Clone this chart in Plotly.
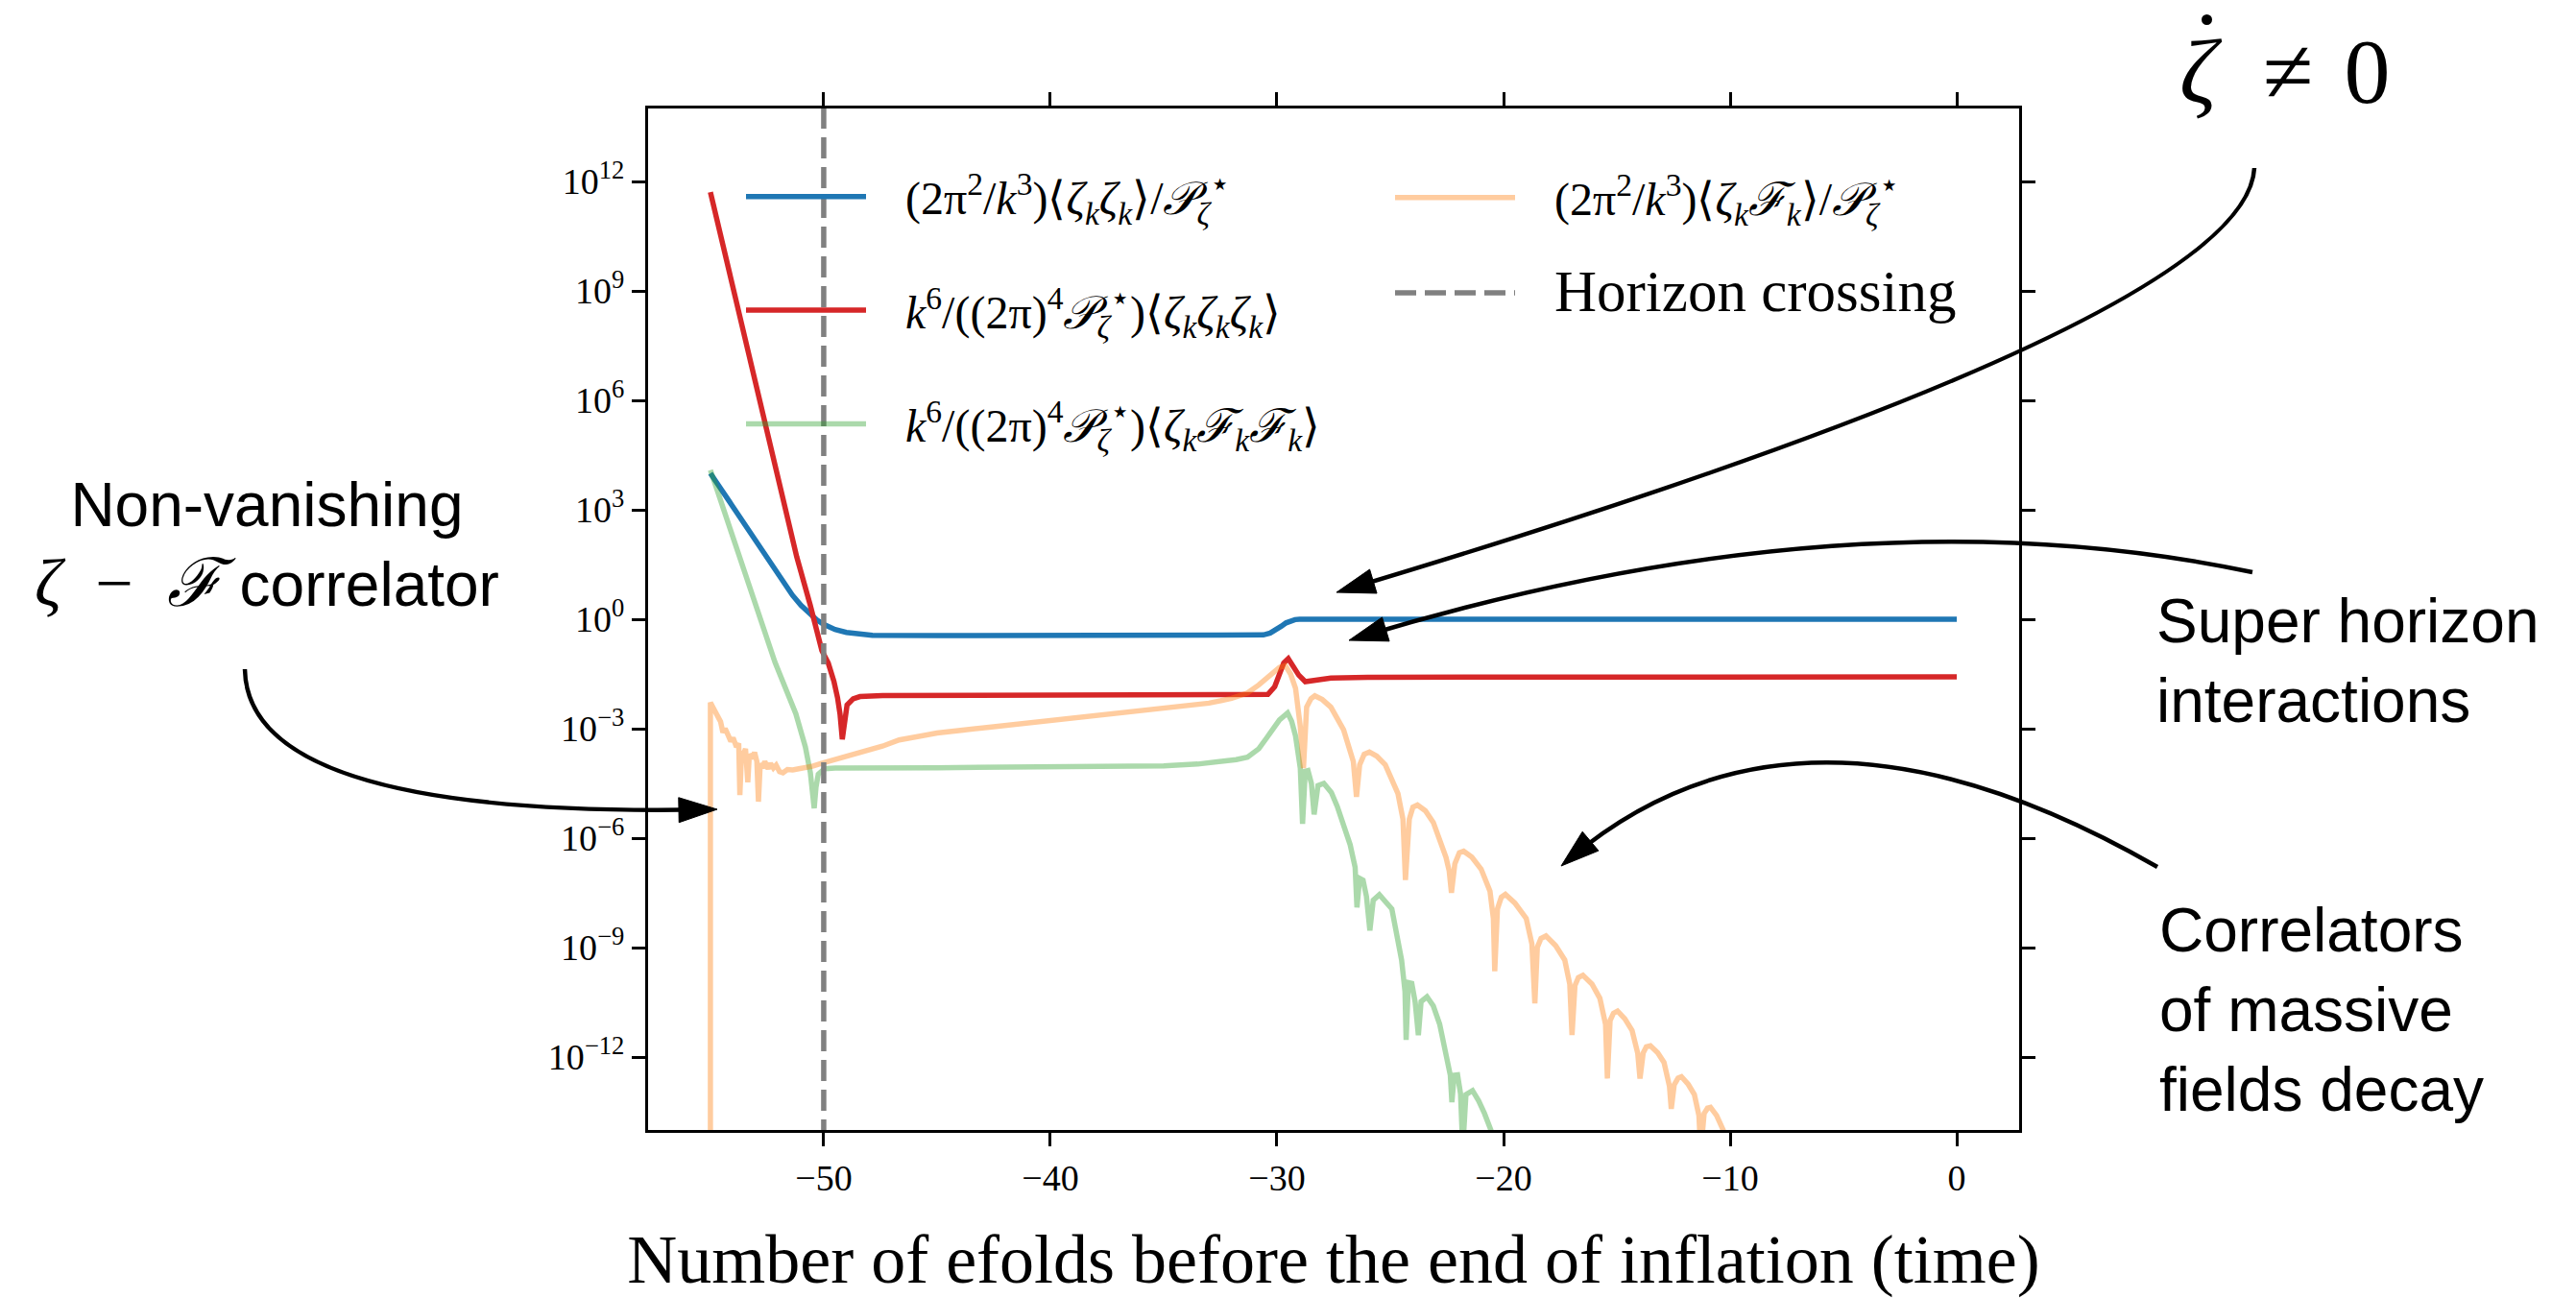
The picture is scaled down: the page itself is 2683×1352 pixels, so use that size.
import numpy as np
import plotly.graph_objects as go

# ---------------- data (x in efolds, y given as log10 of the value) ----------------
blue_x = [-55.0, -54.0, -53.0, -52.55, -52.0, -51.38, -51.0, -50.6, -50.3, -50.0, -49.5, -49.0,
          -48.5, -47.85, -45.0, -40.0, -35.0, -31.0, -30.6, -30.3, -30.0, -29.8, -29.6, -29.4,
          -29.2, -29.0, -25.0, -20.0, -10.0, 0.0]
blue_log = [4.00, 3.07, 2.13, 1.71, 1.22, 0.66, 0.38, 0.14, -0.02, -0.14, -0.28, -0.36,
            -0.41, -0.44, -0.45, -0.45, -0.45, -0.44, -0.43, -0.38, -0.28, -0.19, -0.10, -0.04,
            -0.01, 0.0, 0.0, 0.0, 0.0, 0.0]

red_x = [-55.0, -54.0, -53.0, -52.0, -51.19, -50.6, -50.08, -49.8, -49.55, -49.39, -49.28, -49.18,
         -49.08, -48.97, -48.7, -48.4, -47.4, -40.0, -31.3, -30.4, -30.1, -29.89, -29.7, -29.5,
         -29.3, -29.04, -28.75, -28.4, -27.62, -26.0, -20.0, 0.0]
red_log = [11.71, 9.1, 6.5, 3.9, 1.71, 0.4, -0.86, -1.2, -1.7, -2.15, -2.6, -3.29,
           -2.7, -2.35, -2.18, -2.12, -2.09, -2.08, -2.08, -2.06, -1.85, -1.45, -1.2, -1.08,
           -1.25, -1.53, -1.71, -1.67, -1.61, -1.59, -1.58, -1.58]

green_x = [-55.0, -54.0, -53.0, -52.15, -51.23, -50.81, -50.59, -50.5, -50.42, -50.34, -50.24, -49.96,
           -49.5, -45.0, -40.0, -35.0, -33.5, -32.6, -31.8, -31.3, -30.8, -30.45, -30.1, -29.89,
           -29.53, -29.35, -29.18, -28.97, -28.87, -28.75, -28.63, -28.48, -28.36, -28.19, -27.93,
           -27.6, -27.34, -26.77, -26.55, -26.47, -26.35, -26.2, -26.05, -25.9, -25.75, -25.48,
           -25.2, -24.93, -24.5, -24.35, -24.3, -24.2, -24.05, -23.9, -23.76, -23.64, -23.38,
           -23.1, -22.82, -22.47, -22.35, -22.28, -22.18, -22.03, -21.9, -21.8, -21.66, -21.37,
           -21.1, -20.84, -20.56, -20.3]
green_log = [4.09, 2.24, 0.39, -1.18, -2.59, -3.5, -4.2, -4.6, -5.18, -4.6, -4.25, -4.1,
             -4.08, -4.07, -4.06, -4.02, -3.97, -3.91, -3.85, -3.78, -3.55, -3.25, -2.95, -2.76,
             -2.57, -2.8, -3.2, -4.08, -5.61, -4.17, -4.15, -4.5, -5.35, -4.56, -4.5,
             -4.75, -5.13, -6.18, -6.8, -7.9, -7.1, -7.15, -7.6, -8.53, -7.7, -7.55,
             -7.75, -7.94, -9.34, -10.2, -11.53, -9.96, -9.98, -10.5, -11.4, -10.48, -10.35,
             -10.6, -11.1, -12.06, -12.5, -13.24, -12.5, -12.49, -13.0, -14.5, -13.03, -12.92,
             -13.2, -13.55, -14.0, -14.6]

orange_x = [-55.0, -55.0, -54.9, -54.83, -54.75, -54.65, -54.55, -54.45, -54.35, -54.2, -54.1, -54.0,
            -53.85, -53.75, -53.7, -53.62, -53.56, -53.45, -53.35, -53.28, -53.14, -53.05, -52.95,
            -52.88, -52.8, -52.71, -52.6, -52.45, -52.35, -52.22, -52.1, -51.95, -51.8, -51.6,
            -51.37, -51.1, -50.81, -50.5, -50.1, -49.5, -48.83, -48.1, -47.41, -46.67, -45.0,
            -42.7, -40.0, -38.8, -36.5, -34.9, -33.0, -32.0, -31.3, -30.8, -30.45, -30.1, -29.89,
            -29.63, -29.4, -29.18, -28.97, -28.83, -28.69, -28.5, -28.33, -28.0, -27.62, -27.06,
            -26.63, -26.49, -26.35, -26.15, -25.92, -25.6, -25.22, -24.66, -24.44, -24.33, -24.16,
            -24.0, -23.8, -23.45, -23.1, -22.54, -22.4, -22.3, -22.15, -21.95, -21.76, -21.4,
            -20.99, -20.6, -20.45, -20.39, -20.27, -20.1, -19.92, -19.5, -19.0, -18.75, -18.62,
            -18.51, -18.35, -18.13, -17.7, -17.3, -17.08, -16.98, -16.85, -16.7, -16.5, -16.1,
            -15.75, -15.5, -15.42, -15.3, -15.15, -14.97, -14.65, -14.33, -14.08, -13.98, -13.84,
            -13.7, -13.52, -13.2, -12.92, -12.68, -12.6, -12.47, -12.3, -12.15, -11.85, -11.58,
            -11.38, -11.3, -11.15, -11.0, -10.87, -10.6, -10.31, -10.1]
orange_log = [-20.0, -2.28, -2.4, -2.5, -2.55, -2.75, -2.81, -3.1, -3.0, -3.2, -3.35, -3.25,
              -3.5, -3.4, -4.82, -3.6, -3.73, -3.55, -4.47, -3.7, -3.82, -3.65, -3.9,
              -5.0, -3.95, -4.08, -3.9, -4.1, -3.95, -4.08, -4.0, -4.18, -4.21, -4.12,
              -4.13, -4.1, -4.08, -4.03, -3.95, -3.85, -3.73, -3.6, -3.48, -3.31, -3.12,
              -2.96, -2.78, -2.68, -2.55, -2.44, -2.3, -2.17, -2.02, -1.8, -1.62, -1.45, -1.32,
              -1.27, -1.5, -1.89, -2.94, -4.08, -2.41, -2.18, -2.1, -2.2, -2.41, -3.03,
              -3.9, -4.87, -3.99, -3.7, -3.64, -3.75, -3.99, -4.78, -5.48, -7.15, -5.48,
              -5.15, -5.09, -5.25, -5.57, -6.53, -6.9, -7.5, -6.7, -6.4, -6.36, -6.52,
              -6.85, -7.45, -8.2, -9.65, -7.94, -7.62, -7.54, -7.78, -8.2, -8.9, -10.53,
              -8.99, -8.75, -8.68, -8.95, -9.34, -10.0, -11.4, -10.04, -9.82, -9.76, -10.0,
              -10.39, -11.1, -12.59, -11.0, -10.8, -10.74, -10.95, -11.27, -11.9, -12.59, -11.89,
              -11.72, -11.69, -11.88, -12.15, -12.8, -13.42, -12.76, -12.58, -12.54, -12.75, -13.03,
              -13.6, -14.6, -13.55, -13.4, -13.38, -13.6, -14.0, -14.4]

horizon_x = [-50.0, -50.0]
horizon_y = [1e-20, 1e20]

x_ticks = [-50, -40, -30, -20, -10, 0]
y_tick_vals = [1e-12, 1e-9, 1e-6, 1e-3, 1e0, 1e3, 1e6, 1e9, 1e12]
y_tick_text = ["10<sup>−12</sup>", "10<sup>−9</sup>", "10<sup>−6</sup>", "10<sup>−3</sup>",
               "10<sup>0</sup>", "10<sup>3</sup>", "10<sup>6</sup>", "10<sup>9</sup>", "10<sup>12</sup>"]

# ---------------- layout helpers ----------------
W, H = 2683, 1352
L, R, T, B = 675, 2103, 113, 1177  # plot-area box in pixels


def pp(X, Y):
    """pixel position -> paper coordinates"""
    return (X - L) / (R - L), (B - Y) / (B - T)


SERIF = "Liberation Serif"
SANS = "Liberation Sans"
NB = "\u00a0\u00a0\u00a0"  # gap between legend line and its label

Z = "<i>ζ</i>"
K = "<i>k</i>"
F = "<i>ℱ</i>"
P = "<i>𝒫</i>"
PZ = f"{P}<sub>{Z}</sub><sup>⋆</sup>"

name_blue = NB + f"(2π<sup>2</sup>/{K}<sup>3</sup>)⟨{Z}<sub>{K}</sub>{Z}<sub>{K}</sub>⟩/{PZ}"
name_red = NB + f"{K}<sup>6</sup>/((2π)<sup>4</sup>{PZ})⟨{Z}<sub>{K}</sub>{Z}<sub>{K}</sub>{Z}<sub>{K}</sub>⟩"
name_green = NB + f"{K}<sup>6</sup>/((2π)<sup>4</sup>{PZ})⟨{Z}<sub>{K}</sub>{F}<sub>{K}</sub>{F}<sub>{K}</sub>⟩"
name_orange = NB + f"(2π<sup>2</sup>/{K}<sup>3</sup>)⟨{Z}<sub>{K}</sub>{F}<sub>{K}</sub>⟩/{PZ}"
name_horizon = NB + "<span style='font-size:61px'>Horizon crossing</span>"

fig = go.Figure()
LW = 5.5
fig.add_trace(go.Scatter(x=blue_x, y=10 ** np.array(blue_log), mode="lines", name=name_blue,
                         line=dict(color="#1f77b4", width=LW), legend="legend", legendgroup="a",
                         legendrank=1))
fig.add_trace(go.Scatter(x=red_x, y=10 ** np.array(red_log), mode="lines", name=name_red,
                         line=dict(color="#d62728", width=LW), legend="legend", legendgroup="b",
                         legendrank=2))
fig.add_trace(go.Scatter(x=green_x, y=10 ** np.array(green_log), mode="lines", name=name_green,
                         line=dict(color="rgba(44,160,44,0.4)", width=LW), legend="legend",
                         legendgroup="c", legendrank=3))
fig.add_trace(go.Scatter(x=orange_x, y=10 ** np.array(orange_log), mode="lines", name=name_orange,
                         line=dict(color="rgba(255,127,14,0.4)", width=LW), legend="legend2",
                         legendgroup="d", legendrank=4))
fig.add_trace(go.Scatter(x=horizon_x, y=horizon_y, mode="lines", name=name_horizon,
                         line=dict(color="#808080", width=5.5, dash="22px,9px"), legend="legend2",
                         legendgroup="e", legendrank=5))

axis_common = dict(showline=True, linecolor="black", linewidth=3, mirror="ticks", ticks="outside",
                   ticklen=14, tickwidth=3, tickcolor="black", showgrid=False, zeroline=False,
                   tickfont=dict(family=SERIF, size=38, color="black"))

lx1, ly1 = pp(772, 167)
lx2, ly2 = pp(1448, 168)

fig.update_layout(
    width=W, height=H,
    margin=dict(l=L, r=W - R, t=T, b=H - B, pad=0),
    paper_bgcolor="white", plot_bgcolor="white",
    xaxis=dict(range=[-57.75, 2.75], tickvals=x_ticks, automargin=False,
               title=dict(text="Number of efolds before the end of inflation (time)",
                          font=dict(family=SERIF, size=72, color="black"), standoff=40),
               **axis_common),
    yaxis=dict(type="log", range=[-14, 14], tickvals=y_tick_vals, ticktext=y_tick_text,
               automargin=False, **axis_common),
    legend=dict(x=lx1, y=ly1, xanchor="left", yanchor="top", bgcolor="rgba(0,0,0,0)",
                font=dict(family=SERIF, size=48, color="black"), traceorder="grouped",
                tracegroupgap=53, itemwidth=125),
    legend2=dict(x=lx2, y=ly2, xanchor="left", yanchor="top", bgcolor="rgba(0,0,0,0)",
                 font=dict(family=SERIF, size=48, color="black"), traceorder="grouped",
                 tracegroupgap=34, itemwidth=125),
    showlegend=True,
)

# ---------------- curved arrows (quadratic Bezier in pixel space) ----------------
curves = [
    ((2348, 175), (2340, 333), (1392, 617)),   # zeta-dot != 0
    ((2346, 596), (1930, 508), (1405, 667)),   # super horizon interactions
    ((2247, 903), (1877, 690), (1626, 902)),   # massive fields decay
    ((255, 697), (258, 852), (747, 843)),      # non-vanishing correlator
]
HEAD_LEN, HEAD_HW = 40.0, 13.0
for P0, P1, P2 in curves:
    d = np.array(P2, float) - np.array(P1, float)
    d /= np.linalg.norm(d)
    n = np.array([-d[1], d[0]])
    tip = np.array(P2, float)
    base = tip - d * HEAD_LEN
    end = tip - d * 12
    a = pp(*P0); b = pp(*P1); c = pp(*end)
    fig.add_shape(type="path", xref="paper", yref="paper", layer="above",
                  path=f"M{a[0]},{a[1]} Q{b[0]},{b[1]} {c[0]},{c[1]}",
                  line=dict(color="black", width=4.5))
    h1 = pp(*tip); h2 = pp(*(base + n * HEAD_HW)); h3 = pp(*(base - n * HEAD_HW))
    fig.add_shape(type="path", xref="paper", yref="paper", layer="above",
                  path=f"M{h1[0]},{h1[1]} L{h2[0]},{h2[1]} L{h3[0]},{h3[1]} Z",
                  fillcolor="black", line=dict(color="black", width=1))


# ---------------- text annotations ----------------
def add_text(X, Y, text, size, family, xanchor="center", align="center"):
    x, y = pp(X, Y)
    fig.add_annotation(x=x, y=y, xref="paper", yref="paper", text=text, showarrow=False,
                       xanchor=xanchor, yanchor="middle", align=align,
                       font=dict(family=family, size=size, color="black"))


add_text(2380, 75, "<i>ζ</i>\u2002≠\u20040", 96, SERIF)
# time-derivative dot over the zeta
d0 = pp(2293, 15); d1 = pp(2304, 26)
fig.add_shape(type="circle", xref="paper", yref="paper", x0=d0[0], y0=d0[1], x1=d1[0], y1=d1[1],
              fillcolor="black", line=dict(color="black", width=0), layer="above")

add_text(2244, 688, "Super horizon<br>interactions", 64, SANS, xanchor="left", align="left")
add_text(2247, 1052, "Correlators<br>of massive<br>fields decay", 64, SANS, xanchor="left", align="left")
add_text(278, 568,
         f"Non-vanishing<br><span style='font-family:{SERIF};font-size:70px'>{Z}\u2002−\u2002{F}</span> correlator",
         64, SANS)

fig.write_html("out.html")
